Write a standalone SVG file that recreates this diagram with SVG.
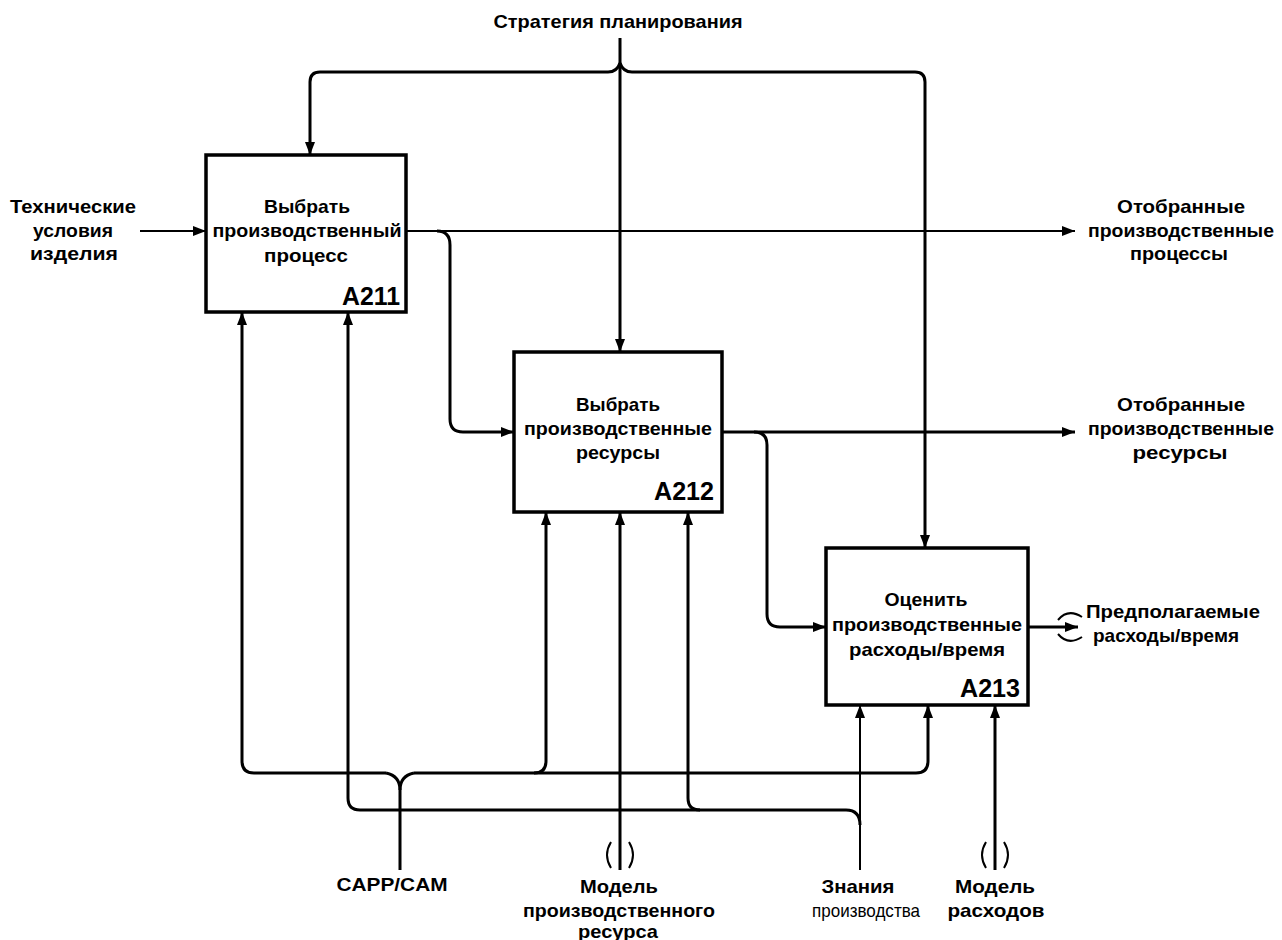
<svg xmlns="http://www.w3.org/2000/svg" width="1282" height="940" viewBox="0 0 1282 940">
<style>
text{font-family:"Liberation Sans",Arial,sans-serif;font-weight:bold;font-size:18.5px;fill:#000;text-anchor:middle}
.id{font-size:26px;text-anchor:end}
.thin{font-weight:normal}
.box{fill:#fff;stroke:#000;stroke-width:3.5}
.c{fill:none;stroke:#000;stroke-width:3}
.c2{fill:none;stroke:#000;stroke-width:2}
</style>
<defs>
<marker id="ah" markerUnits="userSpaceOnUse" markerWidth="13" markerHeight="10" refX="13" refY="5" orient="auto">
<path d="M0,0 L13,5 L0,10 z" fill="#000"/>
</marker>
</defs>
<rect width="1282" height="940" fill="#fff"/>
<g id="connectors">
<path class="c" d="M620 38 V352" marker-end="url(#ah)"/>
<path class="c" d="M608 72 H320 Q310 72 310 82 V155" marker-end="url(#ah)"/>
<path class="c" d="M608 72 Q617 72 620 63"/>
<path class="c" d="M632 72 H915 Q925 72 925 82 V548" marker-end="url(#ah)"/>
<path class="c" d="M632 72 Q623 72 620 63"/>
<path class="c2" d="M140 231 H206" marker-end="url(#ah)"/>
<path class="c2" d="M406 231 H1075" marker-end="url(#ah)"/>
<path class="c" d="M437 231 Q450 231 450 245 V419 Q450 432 463 432 H514" marker-end="url(#ah)"/>
<path class="c" d="M722 432 H1075" marker-end="url(#ah)"/>
<path class="c" d="M754 432 Q767 432 767 445 V614 Q767 627 780 627 H826" marker-end="url(#ah)"/>
<path class="c" d="M1028 627 H1078" marker-end="url(#ah)"/>
<path class="c2" d="M1058 620 Q1068 608 1082 617"/>
<path class="c2" d="M1058 634 Q1068 646 1082 637"/>
<path class="c" d="M400 870 V790 Q400 776 386 773"/>
<path class="c" d="M400 790 Q400 776 414 773"/>
<path class="c" d="M386 773 H254 Q242 773 242 761 V312" marker-end="url(#ah)"/>
<path class="c" d="M414 773 H916 Q928 773 928 761 V705" marker-end="url(#ah)"/>
<path class="c" d="M534 773 Q546 773 546 761 V512" marker-end="url(#ah)"/>
<path class="c2" d="M860 870 V705" marker-end="url(#ah)"/>
<path class="c" d="M860 825 Q860 810 846 810 H360 Q348 810 348 798 V312" marker-end="url(#ah)"/>
<path class="c" d="M700 810 Q688 810 688 798 V512" marker-end="url(#ah)"/>
<path class="c" d="M620 870 V512" marker-end="url(#ah)"/>
<path class="c2" d="M611 842 Q603 855 611 868"/>
<path class="c2" d="M629 842 Q637 855 629 868"/>
<path class="c" d="M995 870 V705" marker-end="url(#ah)"/>
<path class="c2" d="M986 842 Q978 855 986 868"/>
<path class="c2" d="M1004 842 Q1012 855 1004 868"/>
</g>
<g id="A211">
<rect class="box" x="206" y="155" width="200" height="157"/>
<text x="307" y="213" textLength="86" lengthAdjust="spacingAndGlyphs">Выбрать</text>
<text x="307" y="237" textLength="189" lengthAdjust="spacingAndGlyphs">производственный</text>
<text x="306" y="262" textLength="84" lengthAdjust="spacingAndGlyphs">процесс</text>
<text class="id" x="400" y="305" textLength="58" lengthAdjust="spacingAndGlyphs">A211</text>
</g>
<g id="A212">
<rect class="box" x="514" y="352" width="208" height="160"/>
<text x="618" y="411" textLength="84" lengthAdjust="spacingAndGlyphs">Выбрать</text>
<text x="618" y="435" textLength="188" lengthAdjust="spacingAndGlyphs">производственные</text>
<text x="618" y="459" textLength="84" lengthAdjust="spacingAndGlyphs">ресурсы</text>
<text class="id" x="714" y="500" textLength="60" lengthAdjust="spacingAndGlyphs">A212</text>
</g>
<g id="A213">
<rect class="box" x="826" y="548" width="202" height="157"/>
<text x="926" y="606" textLength="83" lengthAdjust="spacingAndGlyphs">Оценить</text>
<text x="927" y="631" textLength="190" lengthAdjust="spacingAndGlyphs">производственные</text>
<text x="927" y="656" textLength="156" lengthAdjust="spacingAndGlyphs">расходы/время</text>
<text class="id" x="1020" y="697" textLength="60" lengthAdjust="spacingAndGlyphs">A213</text>
</g>
<g id="labels">
<text x="618" y="28" textLength="249" lengthAdjust="spacingAndGlyphs">Стратегия планирования</text>
<text x="73" y="213" textLength="126" lengthAdjust="spacingAndGlyphs">Технические</text>
<text x="73" y="237" textLength="80" lengthAdjust="spacingAndGlyphs">условия</text>
<text x="74" y="260" textLength="88" lengthAdjust="spacingAndGlyphs">изделия</text>
<text x="1181" y="213" textLength="128" lengthAdjust="spacingAndGlyphs">Отобранные</text>
<text x="1181" y="237" textLength="186" lengthAdjust="spacingAndGlyphs">производственные</text>
<text x="1179" y="260" textLength="98" lengthAdjust="spacingAndGlyphs">процессы</text>
<text x="1181" y="411" textLength="128" lengthAdjust="spacingAndGlyphs">Отобранные</text>
<text x="1181" y="435" textLength="186" lengthAdjust="spacingAndGlyphs">производственные</text>
<text x="1180" y="459" textLength="95" lengthAdjust="spacingAndGlyphs">ресурсы</text>
<text x="1173" y="618" textLength="174" lengthAdjust="spacingAndGlyphs">Предполагаемые</text>
<text x="1166" y="642" textLength="146" lengthAdjust="spacingAndGlyphs">расходы/время</text>
<text x="392" y="891" textLength="111" lengthAdjust="spacingAndGlyphs">CAPP/CAM</text>
<text x="619" y="893" textLength="78" lengthAdjust="spacingAndGlyphs">Модель</text>
<text x="619" y="917" textLength="192" lengthAdjust="spacingAndGlyphs">производственного</text>
<text x="618" y="938" textLength="80" lengthAdjust="spacingAndGlyphs">ресурса</text>
<text x="858" y="893" textLength="73" lengthAdjust="spacingAndGlyphs">Знания</text>
<text class="thin" x="866" y="917" textLength="108" lengthAdjust="spacingAndGlyphs">производства</text>
<text x="995" y="893" textLength="80" lengthAdjust="spacingAndGlyphs">Модель</text>
<text x="996" y="917" textLength="97" lengthAdjust="spacingAndGlyphs">расходов</text>
</g>
</svg>
